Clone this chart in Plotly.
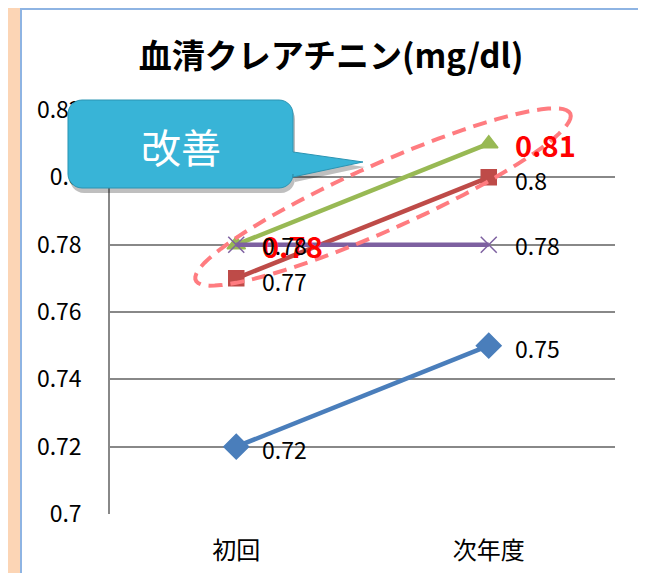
import numpy as np
import plotly.graph_objects as go

categories = ["初回", "次年度"]
series_a = [0.72, 0.75]   # blue diamonds
series_b = [0.77, 0.80]   # red squares
series_c = [0.78, 0.81]   # green triangles
series_d = [0.78, 0.78]   # purple crosses
y_ticks = [0.70, 0.72, 0.74, 0.76, 0.78, 0.80, 0.82]

FONT = "Noto Sans CJK JP"
W, H = 646, 573
OFF = 8  # the page puts the figure 8px in from the window corner

# plot area in window pixels (used only to place the decorations)
L, R, T, B = 110, 615, 110, 514


def px(x, y):
    return (x - L) / (R - L), (B - y) / (B - T)


def path_from(points):
    pts = [px(x, y) for x, y in points]
    return "M " + " L ".join(f"{a:.5f},{b:.5f}" for a, b in pts) + " Z"


def labels(vals):
    return [f"{v:g}" for v in vals]


fig = go.Figure()

traces = [
    (series_a, "#4A7EBB", "diamond", 19),
    (series_b, "#BE4B48", "square", 15),
    (series_c, "#98B954", "triangle-up", 16),
    (series_d, "#7D60A0", "x-thin", 16),
]
for vals, color, symbol, size in traces:
    fig.add_trace(go.Scatter(
        x=categories, y=vals, mode="lines+markers",
        line=dict(color=color, width=4.5),
        marker=dict(symbol=symbol, size=size, color=color,
                    line=dict(color=color, width=1.5)),
        cliponaxis=False, showlegend=False, hoverinfo="skip",
    ))

# data labels (green ones are big red bold, drawn first so black ones sit on top)
label_sets = [
    (series_c, dict(size=29, color="#FF0000", weight="bold"), 0),
    (series_a, dict(size=23, color="black"), -2),
    (series_b, dict(size=23, color="black"), -3),
    (series_d, dict(size=23, color="black"), 0),
]
for vals, tfont, ys in label_sets:
    for cat, v, t in zip(categories, vals, labels(vals)):
        fig.add_annotation(x=cat, y=v, text=t, showarrow=False, xanchor="left",
                           yanchor="middle", xshift=24, yshift=ys,
                           font=dict(family=FONT, **tfont))

# white panel with light blue border on the peach background
x0, y0 = px(21, 9)
x1, y1 = px(640, 600)
fig.add_shape(type="rect", xref="paper", yref="paper", x0=x0, y0=y1, x1=x1, y1=y0,
              fillcolor="white", line=dict(color="#8EB4E3", width=2), layer="below")

# dashed ellipse
cx, cy, a, b, th = 383, 197, 205, 33, np.radians(24)
t = np.linspace(0, 2 * np.pi, 90)
ex = cx + a * np.cos(t) * np.cos(th) + b * np.sin(t) * np.sin(th)
ey = cy - a * np.cos(t) * np.sin(th) + b * np.sin(t) * np.cos(th)
fig.add_shape(type="path", xref="paper", yref="paper", path=path_from(zip(ex, ey)),
              line=dict(color="#FF7C80", width=4, dash="14px,8px"), layer="above")


# callout "改善"
def callout(dx=0, dy=0):
    bx0, bx1, by0, by1, r = 68 + dx, 293 + dx, 100 + dy, 188 + dy, 14
    pts = []
    for ccx, ccy, a0 in [(bx1 - r, by0 + r, -90), (bx1 - r, by1 - r, 0),
                         (bx0 + r, by1 - r, 90), (bx0 + r, by0 + r, 180)]:
        if a0 == 0:
            pts += [(bx1, 152 + dy), (363 + dx, 162 + dy), (bx1, 177 + dy)]
        for ang in np.radians(np.linspace(a0, a0 + 90, 8)):
            pts.append((ccx + r * np.cos(ang), ccy + r * np.sin(ang)))
    return path_from(pts)


fig.add_shape(type="path", xref="paper", yref="paper", path=callout(2, 5),
              fillcolor="rgba(0,0,0,0.25)", line=dict(width=0), layer="above")
fig.add_shape(type="path", xref="paper", yref="paper", path=callout(),
              fillcolor="#38B4D7", line=dict(color="#2B94B3", width=1), layer="above")
tx, ty = px(181, 146)
fig.add_annotation(xref="paper", yref="paper", x=tx, y=ty, text="改善", showarrow=False,
                   xanchor="center", yanchor="middle",
                   font=dict(family=FONT, size=40, color="white"))

fig.update_layout(
    width=W, height=H,
    margin=dict(l=L - OFF, r=W - (R - OFF), t=T - OFF, b=H - (B - OFF)),
    paper_bgcolor="#FCD5B5",
    plot_bgcolor="rgba(0,0,0,0)",
    font=dict(family=FONT, color="black"),
    title=dict(text="<b>血清クレアチニン(mg/dl)</b>", x=(331 - OFF) / W, xanchor="center",
               y=1 - (56 - OFF) / H, yanchor="middle", font=dict(size=33, family=FONT)),
)
fig.update_xaxes(
    type="category", range=[-0.5, 1.5], showgrid=False, zeroline=False,
    showline=False, ticks="", ticklabelstandoff=20,
    tickfont=dict(size=24, family=FONT),
)
fig.update_yaxes(
    range=[0.70, 0.82], tickvals=y_ticks, ticktext=labels(y_ticks),
    showgrid=True, gridcolor="#888888", gridwidth=1.5, zeroline=False,
    showline=True, linecolor="#888888", linewidth=1.5, ticks="",
    ticklabelstandoff=22, tickfont=dict(size=23, family=FONT),
)

fig.write_html("out.html")
